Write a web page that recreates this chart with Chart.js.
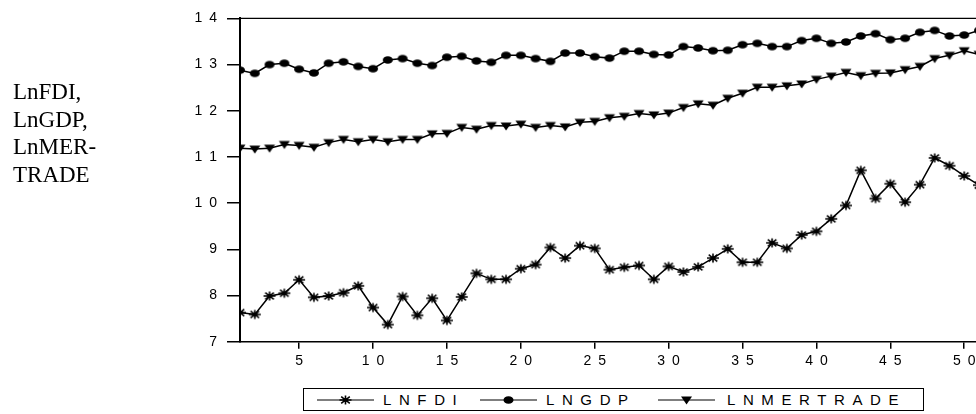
<!DOCTYPE html>
<html>
<head>
<meta charset="utf-8">
<script src="https://cdn.jsdelivr.net/npm/chart.js@4.4.1/dist/chart.umd.min.js"></script>
<style>
    html, body { margin: 0; padding: 0; background: #fff; overflow: hidden; width: 976px; height: 414px; }
    #wrap { position: relative; width: 976px; height: 414px; overflow: hidden; }
    #c { position: absolute; left: 0; top: 0; }
    #ylabel {
        position: absolute; left: 13px; top: 78px;
        font-family: "Liberation Serif", serif; font-size: 23px; line-height: 27.7px; color: #000;
    }
    #legend {
        position: absolute; left: 303px; top: 388px; width: 619px; height: 21px;
        border: 1.5px solid #000; background: #fff;
        font-family: "Liberation Sans", Arial, sans-serif; font-size: 15px; color: #000;
    }
    #legend canvas, #legend span { position: absolute; }
    #legend span { top: 2px; letter-spacing: 7.6px; }
</style>
</head>
<body>
<div id="wrap">
    <canvas id="c" width="990" height="414"></canvas>
    <div id="ylabel">LnFDI,<br>LnGDP,<br>LnMER-<br>TRADE</div>
    <div id="legend"></div>
</div>
<script>
// period index along the x axis
const periods = [1,2,3,4,5,6,7,8,9,10,11,12,13,14,15,16,17,18,19,20,21,22,23,24,25,26,27,28,29,30,
    31,32,33,34,35,36,37,38,39,40,41,42,43,44,45,46,47,48,49,50,51];

const lnFDI = [7.63,7.59,7.99,8.05,8.34,7.96,7.99,8.06,8.21,7.74,
    7.37,7.98,7.57,7.94,7.46,7.97,8.48,8.35,8.35,8.58,
    8.67,9.04,8.81,9.08,9.02,8.56,8.61,8.65,8.35,8.63,
    8.51,8.62,8.81,9.01,8.72,8.72,9.14,9.02,9.31,9.39,
    9.66,9.95,10.71,10.10,10.42,10.02,10.40,10.98,10.81,10.59,10.39];

const lnGDP = [12.88,12.81,13.00,13.03,12.90,12.82,13.03,13.06,12.96,12.91,
    13.10,13.13,13.03,12.98,13.16,13.18,13.08,13.05,13.20,13.20,
    13.13,13.07,13.25,13.25,13.17,13.14,13.29,13.29,13.22,13.21,
    13.39,13.36,13.30,13.31,13.43,13.46,13.39,13.39,13.52,13.57,
    13.46,13.49,13.62,13.67,13.54,13.57,13.70,13.74,13.62,13.64,13.74];

const lnMERTRADE = [11.19,11.17,11.19,11.27,11.25,11.21,11.31,11.38,11.33,11.38,
    11.33,11.38,11.38,11.50,11.51,11.64,11.60,11.68,11.67,11.71,
    11.64,11.68,11.65,11.75,11.77,11.85,11.88,11.94,11.91,11.95,
    12.07,12.15,12.12,12.27,12.38,12.51,12.51,12.54,12.58,12.68,
    12.75,12.83,12.76,12.81,12.82,12.89,12.96,13.13,13.20,13.30,13.22];

const xTicks = [5,10,15,20,25,30,35,40,45,50];
const yTicks = [7,8,9,10,11,12,13,14];
const seriesNames = ['LNFDI', 'LNGDP', 'LNMERTRADE'];

// marker shapes drawn onto small canvases
function drawMarker(ctx, type, cx, cy) {
    ctx.fillStyle = '#000';
    ctx.strokeStyle = '#000';
    if (type === 'star') {
        ctx.lineWidth = 1.6;
        ctx.beginPath();
        ctx.moveTo(cx - 6, cy); ctx.lineTo(cx + 6, cy);
        ctx.moveTo(cx, cy - 4.5); ctx.lineTo(cx, cy + 4.5);
        ctx.moveTo(cx - 4.3, cy - 3.3); ctx.lineTo(cx + 4.3, cy + 3.3);
        ctx.moveTo(cx - 4.3, cy + 3.3); ctx.lineTo(cx + 4.3, cy - 3.3);
        ctx.stroke();
        ctx.beginPath();
        ctx.ellipse(cx, cy, 2.6, 2, 0, 0, Math.PI * 2);
        ctx.fill();
    } else if (type === 'dot') {
        ctx.beginPath();
        ctx.ellipse(cx, cy, 5, 3.8, 0, 0, Math.PI * 2);
        ctx.fill();
    } else {
        ctx.beginPath();
        ctx.moveTo(cx - 5.5, cy - 3.5);
        ctx.lineTo(cx + 5.5, cy - 3.5);
        ctx.lineTo(cx, cy + 4.5);
        ctx.closePath();
        ctx.fill();
    }
}

function makeMarker(type) {
    const cv = document.createElement('canvas');
    cv.width = 14;
    cv.height = 12;
    drawMarker(cv.getContext('2d'), type, 7, 6);
    return cv;
}

const markerTypes = ['star', 'dot', 'tri'];
const markers = markerTypes.map(makeMarker);

function toPoints(values) {
    return values.map((v, i) => ({ x: periods[i], y: v }));
}

// spaced digits like the original print
function spaced(v) {
    return String(v).split('').join('\u2002');
}

const frameTop = {
    id: 'frameTop',
    afterDraw(chart) {
        const a = chart.chartArea;
        const ctx = chart.ctx;
        ctx.save();
        ctx.strokeStyle = '#000';
        ctx.lineWidth = 1.2;
        ctx.beginPath();
        ctx.moveTo(a.left, a.top);
        ctx.lineTo(a.right, a.top);
        ctx.stroke();
        ctx.restore();
    }
};

const series = [lnFDI, lnGDP, lnMERTRADE];

new Chart(document.getElementById('c'), {
    type: 'line',
    data: {
        datasets: series.map((vals, k) => ({
            label: seriesNames[k],
            data: toPoints(vals),
            borderColor: '#000',
            borderWidth: 1.5,
            pointStyle: markers[k],
            pointRadius: 5,
            tension: 0
        }))
    },
    options: {
        responsive: false,
        animation: false,
        devicePixelRatio: 1,
        layout: { padding: { left: 0, top: 13, right: 11, bottom: 0 } },
        plugins: {
            legend: { display: false },
            tooltip: { enabled: false }
        },
        scales: {
            x: {
                type: 'linear',
                min: 1,
                max: 51,
                afterBuildTicks(scale) {
                    scale.ticks = xTicks.map(v => ({ value: v }));
                },
                afterFit(scale) { scale.height = 72.3; },
                border: { display: true, color: '#000', width: 1.5 },
                grid: { drawOnChartArea: false, drawTicks: true, tickLength: 7, color: '#000', lineWidth: 1.5 },
                ticks: {
                    color: '#000',
                    font: { family: '"Liberation Sans", Arial, sans-serif', size: 14 },
                    padding: 4,
                    maxRotation: 0,
                    autoSkip: false,
                    callback: v => spaced(v)
                }
            },
            y: {
                min: 7,
                max: 14,
                afterBuildTicks(scale) {
                    scale.ticks = yTicks.map(v => ({ value: v }));
                },
                afterFit(scale) { scale.width = 240; },
                border: { display: true, color: '#000', width: 2 },
                grid: { drawOnChartArea: false, drawTicks: true, tickLength: 13, color: '#000', lineWidth: 1.5 },
                ticks: {
                    color: '#000',
                    font: { family: '"Liberation Sans", Arial, sans-serif', size: 14 },
                    padding: 10,
                    autoSkip: false,
                    callback: v => spaced(v)
                }
            }
        }
    },
    plugins: [frameTop]
});

// legend box below the chart
const legend = document.getElementById('legend');
const sampleLeft = [13, 176, 354];
const textLeft = [79, 242, 423];
seriesNames.forEach((name, k) => {
    const cv = document.createElement('canvas');
    cv.width = 57;
    cv.height = 12;
    cv.style.left = sampleLeft[k] + 'px';
    cv.style.top = '4.5px';
    const ctx = cv.getContext('2d');
    ctx.strokeStyle = '#000';
    ctx.lineWidth = 1.2;
    ctx.beginPath();
    ctx.moveTo(0, 6);
    ctx.lineTo(57, 6);
    ctx.stroke();
    drawMarker(ctx, markerTypes[k], 28.5, 6);
    legend.appendChild(cv);

    const sp = document.createElement('span');
    sp.textContent = name;
    sp.style.left = textLeft[k] + 'px';
    legend.appendChild(sp);
});
</script>
</body>
</html>
